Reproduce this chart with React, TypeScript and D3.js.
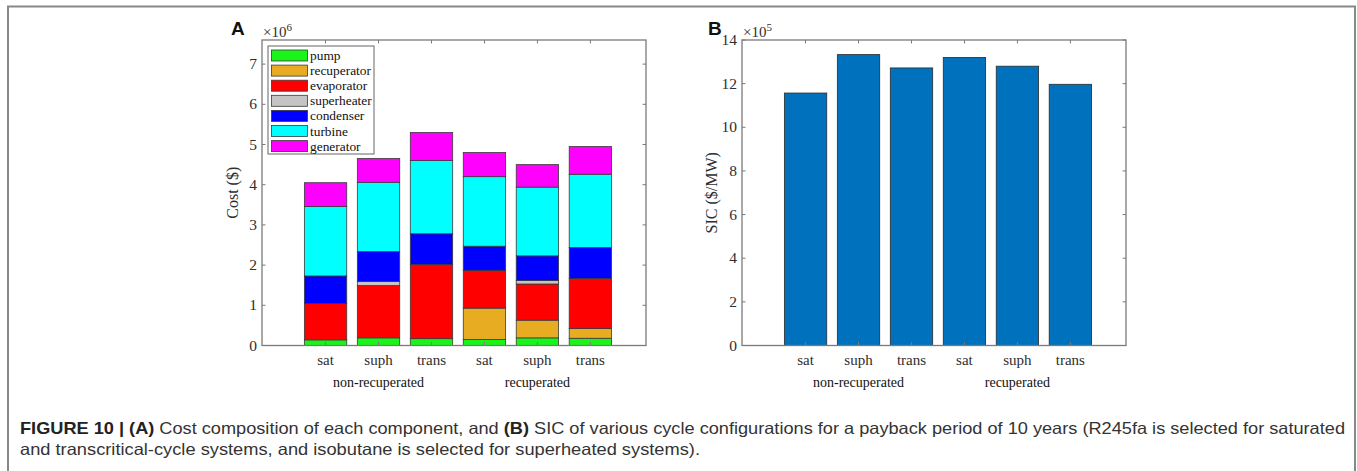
import React from "react";
import * as d3 from "d3";

const categories = ["sat", "suph", "trans", "sat", "suph", "trans"];
const groups = [
  { label: "non-recuperated", at: 2 },
  { label: "recuperated", at: 5 },
];
const components = ["pump", "recuperator", "evaporator", "superheater", "condenser", "turbine", "generator"];
const componentColors = ["#19f519", "#e8ac22", "#ff0000", "#c4c4c4", "#0000ff", "#00ffff", "#ff00ff"];

// cost of each component (x10^6 $) per configuration
const pump = [0.14, 0.19, 0.17, 0.15, 0.19, 0.18];
const recuperator = [0, 0, 0, 0.78, 0.44, 0.24];
const evaporator = [0.905, 1.3, 1.85, 0.94, 0.9, 1.25];
const superheater = [0, 0.1, 0, 0, 0.09, 0];
const condenser = [0.685, 0.75, 0.76, 0.6, 0.61, 0.77];
const turbine = [1.73, 1.72, 1.82, 1.73, 1.71, 1.82];
const generator = [0.59, 0.59, 0.7, 0.6, 0.56, 0.69];

// SIC (x10^5 $/MW)
const sic = [11.57, 13.33, 12.72, 13.2, 12.8, 11.97];

const costTicks = [0, 1, 2, 3, 4, 5, 6, 7];
const sicTicks = [0, 2, 4, 6, 8, 10, 12, 14];

const serif = "'Liberation Serif', 'Times New Roman', serif";
const sans = "'Liberation Sans', Arial, Helvetica, sans-serif";
const axisColor = "#7a7a7a";
const textColor = "#2e2e2e";

type PanelProps = {
  x0: number;
  x1: number;
  yMax: number;
  ticks: number[];
  children: (x: d3.ScaleLinear<number, number>, y: d3.ScaleLinear<number, number>) => React.ReactNode;
};

const TOP = 40;
const BOTTOM = 345.5;

function Panel({ x0, x1, yMax, ticks, children }: PanelProps) {
  const x = d3.scaleLinear().domain([-0.2, 7.05]).range([x0, x1]);
  const y = d3.scaleLinear().domain([0, yMax]).range([BOTTOM, TOP]);
  const tl = 3.5;
  return (
    <g>
      {children(x, y)}
      <rect x={x0} y={TOP} width={x1 - x0} height={BOTTOM - TOP} fill="none" stroke={axisColor} strokeWidth={1.3} />
      {categories.map((c, i) => (
        <g key={"xt" + i}>
          <line x1={x(i + 1)} x2={x(i + 1)} y1={BOTTOM} y2={BOTTOM - tl} stroke={axisColor} />
          <line x1={x(i + 1)} x2={x(i + 1)} y1={TOP} y2={TOP + tl} stroke={axisColor} />
          <text x={x(i + 1)} y={365} textAnchor="middle" fontFamily={serif} fontSize={15} fill={textColor}>
            {c}
          </text>
        </g>
      ))}
      {groups.map((g) => (
        <text key={g.label} x={x(g.at)} y={386.5} textAnchor="middle" fontFamily={serif} fontSize={14} fill="#111">
          {g.label}
        </text>
      ))}
      {ticks.map((t) => (
        <g key={"yt" + t}>
          <line x1={x0} x2={x0 + tl} y1={y(t)} y2={y(t)} stroke={axisColor} />
          <line x1={x1} x2={x1 - tl} y1={y(t)} y2={y(t)} stroke={axisColor} />
          <text x={x0 - 5} y={y(t) + 5} textAnchor="end" fontFamily={serif} fontSize={15.5} fill={textColor}>
            {t}
          </text>
        </g>
      ))}
    </g>
  );
}

export default function App() {
  const series = [pump, recuperator, evaporator, superheater, condenser, turbine, generator];
  const table = categories.map((c, i) => {
    const row: Record<string, number> = { idx: i };
    components.forEach((k, j) => (row[k] = series[j][i]));
    return row;
  });
  const stacked = d3.stack<Record<string, number>>().keys(components)(table);
  const bw = 0.8;

  return (
    <svg
      width={1357}
      height={471}
      style={{ position: "absolute", left: 0, top: 0, background: "#fff" }}
    >
      {/* frame */}
      <path d="M8,480 L8,6.5 L1355,6.5 L1355,480" fill="none" stroke="#888" strokeWidth={2} />

      {/* Panel A */}
      <Panel x0={262} x1={646} yMax={7.6} ticks={costTicks}>
        {(x, y) => (
          <g>
            {stacked.map((layer, j) =>
              layer.map((d, i) =>
                d[1] - d[0] > 0 ? (
                  <rect
                    key={j + "-" + i}
                    x={x(i + 1 - bw / 2)}
                    width={x(i + 1 + bw / 2) - x(i + 1 - bw / 2)}
                    y={y(d[1])}
                    height={y(d[0]) - y(d[1])}
                    fill={componentColors[j]}
                    stroke="#3a3a3a"
                    strokeWidth={0.8}
                  />
                ) : null
              )
            )}
            {/* legend */}
            <rect x={268} y={46} width={106} height={108} fill="#fff" stroke="#555" strokeWidth={0.9} />
            {components.map((k, j) => (
              <g key={k}>
                <rect x={271.5} y={50 + j * 15.1} width={36} height={11} fill={componentColors[j]} stroke="#3a3a3a" strokeWidth={0.8} />
                <text x={310} y={60 + j * 15.1} fontFamily={serif} fontSize={13.4} fill="#111">
                  {k}
                </text>
              </g>
            ))}
            <text x={263} y={37} fontFamily={serif} fontSize={15} fill={textColor}>
              ×10<tspan dy={-6} fontSize={11}>6</tspan>
            </text>
            <text
              transform={`translate(238,${(TOP + BOTTOM) / 2}) rotate(-90)`}
              textAnchor="middle"
              fontFamily={serif}
              fontSize={16}
              fill={textColor}
            >
              Cost ($)
            </text>
            <text x={231} y={35} fontFamily={sans} fontWeight="bold" fontSize={19} fill="#111">
              A
            </text>
          </g>
        )}
      </Panel>

      {/* Panel B */}
      <Panel x0={742} x1={1126} yMax={14} ticks={sicTicks}>
        {(x, y) => (
          <g>
            {sic.map((v, i) => (
              <rect
                key={i}
                x={x(i + 1 - bw / 2)}
                width={x(i + 1 + bw / 2) - x(i + 1 - bw / 2)}
                y={y(v)}
                height={y(0) - y(v)}
                fill="#0072bd"
                stroke="#2a2a2a"
                strokeWidth={0.8}
              />
            ))}
            <text x={743} y={37} fontFamily={serif} fontSize={15} fill={textColor}>
              ×10<tspan dy={-6} fontSize={11}>5</tspan>
            </text>
            <text
              transform={`translate(717,${(TOP + BOTTOM) / 2}) rotate(-90)`}
              textAnchor="middle"
              fontFamily={serif}
              fontSize={16}
              fill={textColor}
            >
              SIC ($/MW)
            </text>
            <text x={708} y={35} fontFamily={sans} fontWeight="bold" fontSize={19} fill="#111">
              B
            </text>
          </g>
        )}
      </Panel>

      {/* caption */}
      <text x={20} y={433.5} fontFamily={sans} fontSize={16.5} fill="#333" textLength={1325} lengthAdjust="spacingAndGlyphs">
        <tspan fontWeight="bold" fill="#222">FIGURE 10 | (A)</tspan>
        <tspan> Cost composition of each component, and </tspan>
        <tspan fontWeight="bold" fill="#222">(B)</tspan>
        <tspan> SIC of various cycle configurations for a payback period of 10 years (R245fa is selected for saturated</tspan>
      </text>
      <text x={20} y={455} fontFamily={sans} fontSize={16.5} fill="#333" textLength={680} lengthAdjust="spacingAndGlyphs">
        and transcritical-cycle systems, and isobutane is selected for superheated systems).
      </text>
    </svg>
  );
}
